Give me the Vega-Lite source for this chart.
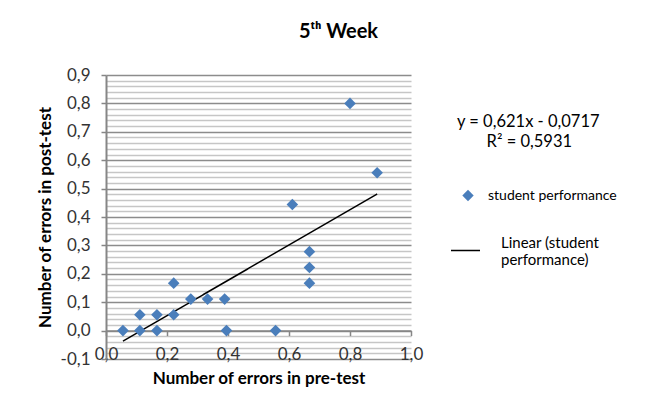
{
  "$schema": "https://vega.github.io/schema/vega-lite/v6.json",
  "width": 305,
  "height": 284,
  "autosize": {"type": "none"},
  "padding": {"left": 106, "top": 75, "right": 242, "bottom": 48},
  "background": "white",
  "config": {
    "font": "Lato",
    "view": {"stroke": null},
    "locale": {"number": {"decimal": ",", "thousands": ".", "grouping": [3], "currency": ["", " €"], "minus": "-"}}
  },
  "title": {
    "text": "5ᵗʰ Week",
    "fontSize": 20,
    "fontWeight": "bold",
    "color": "#000000",
    "anchor": "middle",
    "dx": 80,
    "offset": 24
  },
  "datasets": {
    "points": [
      {"pre": 0.8, "post": 0.8, "series": "student performance"},
      {"pre": 0.889, "post": 0.556, "series": "student performance"},
      {"pre": 0.611, "post": 0.444, "series": "student performance"},
      {"pre": 0.0556, "post": 0.0, "series": "student performance"},
      {"pre": 0.111, "post": 0.0556, "series": "student performance"},
      {"pre": 0.111, "post": 0.0, "series": "student performance"},
      {"pre": 0.167, "post": 0.0556, "series": "student performance"},
      {"pre": 0.167, "post": 0.0, "series": "student performance"},
      {"pre": 0.222, "post": 0.167, "series": "student performance"},
      {"pre": 0.222, "post": 0.0556, "series": "student performance"},
      {"pre": 0.278, "post": 0.111, "series": "student performance"},
      {"pre": 0.333, "post": 0.111, "series": "student performance"},
      {"pre": 0.389, "post": 0.111, "series": "student performance"},
      {"pre": 0.395, "post": 0.0, "series": "student performance"},
      {"pre": 0.556, "post": 0.0, "series": "student performance"},
      {"pre": 0.667, "post": 0.278, "series": "student performance"},
      {"pre": 0.667, "post": 0.222, "series": "student performance"},
      {"pre": 0.667, "post": 0.167, "series": "student performance"}
    ],
    "trend": [
      {"pre": 0.0556, "post": -0.037, "series": "Linear (student performance)"},
      {"pre": 0.889, "post": 0.481, "series": "Linear (student performance)"}
    ]
  },
  "layer": [
    {
      "data": {"name": "trend"},
      "mark": {"type": "line", "color": "#000000", "strokeWidth": 1.5},
      "encoding": {
        "x": {"field": "pre", "type": "quantitative"},
        "y": {"field": "post", "type": "quantitative"},
        "strokeDash": {
          "field": "series",
          "type": "nominal",
          "scale": {"domain": ["Linear (student performance)"], "range": [[1, 0]]},
          "legend": {
            "orient": "none",
            "legendX": 344,
            "legendY": 160,
            "title": null,
            "labelFontSize": 15,
            "labelColor": "#000000",
            "labelLimit": 300,
            "labelOffset": 20,
            "labelBaseline": "bottom",
            "labelExpr": "['Linear (student', 'performance)']",
            "symbolType": "stroke",
            "symbolSize": 841,
            "symbolStrokeWidth": 1.5,
            "symbolStrokeColor": "#000000"
          }
        }
      }
    },
    {
      "data": {"name": "points"},
      "mark": {"type": "point", "filled": true, "opacity": 1, "size": 135},
      "encoding": {
        "x": {
          "field": "pre",
          "type": "quantitative",
          "scale": {"domain": [0, 1], "nice": false, "zero": false},
          "axis": {
            "title": "Number of errors in pre-test",
            "titleFontSize": 17,
            "titleFontWeight": "bold",
            "titleColor": "#000000",
            "titlePadding": 8,
            "values": [0, 0.2, 0.4, 0.6, 0.8, 1.0],
            "tickCount": 100,
            "format": ".1f",
            "labelFontSize": 17,
            "labelColor": "#333333",
            "labelPadding": 11,
            "labelFlush": false,
            "labelOverlap": false,
            "offset": -28.4,
            "grid": false,
            "domainColor": "#868686",
            "domainWidth": 1.5,
            "tickColor": "#868686",
            "tickSize": 5,
            "tickWidth": 1.5
          }
        },
        "y": {
          "field": "post",
          "type": "quantitative",
          "scale": {"domain": [-0.1, 0.9], "nice": false, "zero": false},
          "axis": {
            "title": "Number of errors in post-test",
            "titleFontSize": 17,
            "titleFontWeight": "bold",
            "titleColor": "#000000",
            "titlePadding": 6,
            "values": [-0.1, -0.08, -0.06, -0.04, -0.02, 0, 0.02, 0.04, 0.06, 0.08, 0.1, 0.12, 0.14, 0.16, 0.18, 0.2, 0.22, 0.24, 0.26, 0.28, 0.3, 0.32, 0.34, 0.36, 0.38, 0.4, 0.42, 0.44, 0.46, 0.48, 0.5, 0.52, 0.54, 0.56, 0.58, 0.6, 0.62, 0.64, 0.66, 0.68, 0.7, 0.72, 0.74, 0.76, 0.78, 0.8, 0.82, 0.84, 0.86, 0.88, 0.9],
            "tickCount": 100,
            "labelExpr": "abs(datum.value * 10 - round(datum.value * 10)) < 0.001 ? format(datum.value, '.1f') : ''",
            "labelFontSize": 17,
            "labelColor": "#333333",
            "labelPadding": 11,
            "labelFlush": false,
            "labelOverlap": false,
            "grid": true,
            "gridColor": {"condition": {"test": "abs(datum.value * 10 - round(datum.value * 10)) < 0.001", "value": "#8c8c8c"}, "value": "#c6c6c6"},
            "gridWidth": 1.5,
            "domainColor": "#868686",
            "domainWidth": 2,
            "tickColor": {"condition": {"test": "abs(datum.value * 10 - round(datum.value * 10)) < 0.001", "value": "#868686"}, "value": "transparent"},
            "tickSize": 5,
            "tickWidth": 1.5
          }
        },
        "color": {
          "field": "series",
          "type": "nominal",
          "scale": {"domain": ["student performance"], "range": ["#4a7ebb"]},
          "legend": {
            "orient": "none",
            "legendX": 351,
            "legendY": 39,
            "title": ["y = 0,621x - 0,0717", "\u200b\u00a0\u00a0\u00a0\u00a0\u00a0\u00a0\u00a0R² = 0,5931"],
            "titleFontSize": 16.5,
            "titleFontWeight": "normal",
            "titleColor": "#000000",
            "titleAlign": "left",
            "titleAnchor": "start",
            "titlePadding": 38,
            "titleLineHeight": 20,
            "labelFontSize": 14,
            "labelColor": "#000000",
            "labelLimit": 300,
            "labelOffset": 13,
            "symbolOffset": 4,
            "symbolSize": 130,
            "symbolStrokeWidth": 0
          }
        },
        "shape": {
          "field": "series",
          "type": "nominal",
          "scale": {"domain": ["student performance"], "range": ["diamond"]},
          "legend": null
        }
      }
    }
  ]
}
